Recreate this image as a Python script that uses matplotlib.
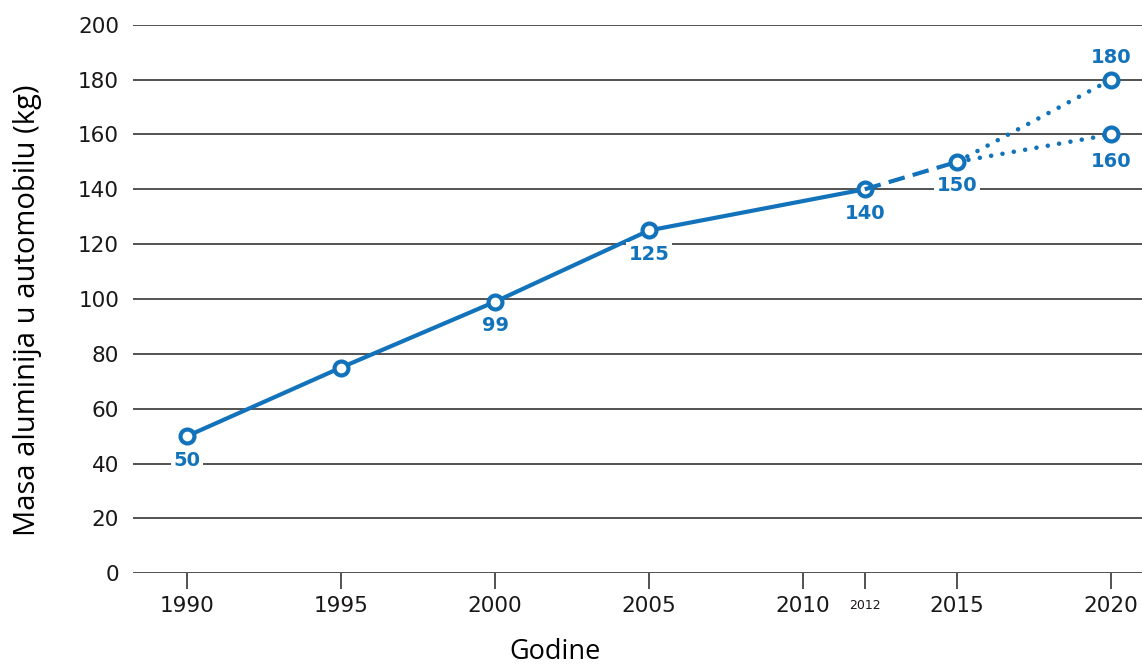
import matplotlib
matplotlib.use("Agg")
import matplotlib.pyplot as plt

years_hist = [1990, 1995, 2000, 2005, 2012]
values_hist = [50, 75, 99, 125, 140]
years_dash = [2012, 2015]
values_dash = [140, 150]
years_high = [2015, 2020]
values_high = [150, 180]
years_low = [2015, 2020]
values_low = [150, 160]

label_years = [1990, 2000, 2005, 2012, 2015, 2020, 2020]
label_values = [50, 99, 125, 140, 150, 180, 160]
label_texts = ["50", "99", "125", "140", "150", "180", "160"]
label_above = [False, False, False, False, False, True, False]

xticks = [1990, 1995, 2000, 2005, 2010, 2012, 2015, 2020]
xtick_labels = ["1990", "1995", "2000", "2005", "2010", "2012", "2015", "2020"]
yticks = [0, 20, 40, 60, 80, 100, 120, 140, 160, 180, 200]

blue = "#1273bb"
dark = "#1a1718"
grid_c = "#444444"

plt.rcParams['font.family'] = ['DejaVu Sans']

fig = plt.figure(figsize=(11.42, 6.64), dpi=100)
ax = fig.add_axes([0.1165, 0.1366, 0.8835, 0.8262])
ax.set_xlim(1988.25, 2021.0)
ax.set_ylim(0, 200)

for y in yticks:
    ax.axhline(y, color=grid_c, lw=1.3, zorder=1)

mk = dict(marker='o', markersize=10, markerfacecolor='white',
          markeredgecolor=blue, markeredgewidth=3)
ax.plot(years_hist, values_hist, color=blue, lw=3, zorder=3, **mk)
ax.plot(years_dash, values_dash, color=blue, lw=3, ls=(0, (4, 2)), zorder=3)
ax.plot(years_high, values_high, color=blue, lw=3.3, ls=(0, (0.01, 2.5)),
        dash_capstyle='round', zorder=3)
ax.plot(years_low, values_low, color=blue, lw=3.3, ls=(0, (0.01, 2.5)),
        dash_capstyle='round', zorder=3)
ax.plot(years_dash[1:], values_dash[1:], ls='none', zorder=4, **mk)
ax.plot(years_high[1:], values_high[1:], ls='none', zorder=4, **mk)
ax.plot(years_low[1:], values_low[1:], ls='none', zorder=4, **mk)

for x, v, t, above in zip(label_years, label_values, label_texts, label_above):
    off = 9 if above else -10.5
    if t == "160":
        off = -12.5
    ax.annotate(t, (x, v), xytext=(0, off), textcoords='offset points',
                ha='center', va='bottom' if above else 'top',
                color=blue, fontsize=14, fontweight='bold', zorder=5,
                bbox=dict(boxstyle='square,pad=0.15', fc='white', ec='none'))

for s in ['left', 'right', 'top', 'bottom']:
    ax.spines[s].set_visible(False)

ax.set_yticks(yticks)
ax.set_yticklabels([str(y) for y in yticks], fontsize=15.5, color=dark)
ax.tick_params(axis='y', length=0, pad=10)

ax.set_xticks(xticks)
ax.set_xticklabels(xtick_labels, fontsize=15.5, color=dark)
ax.tick_params(axis='x', length=11.5, width=1.3, color=grid_c, pad=4.5, direction='out')
for lbl in ax.get_xticklabels():
    if lbl.get_text() == "2012":
        lbl.set_fontsize(9)
        lbl.set_y(-0.006)

fig.text(0.0245, 0.533, "Masa aluminija u automobilu (kg)", rotation=90,
         ha='center', va='center', fontsize=21, color='black', family='Open Sans')
fig.text(0.486, 0.018, "Godine", ha='center', va='center', fontsize=19.5,
         color='black', family='Open Sans')

fig.savefig("out.png", dpi=100)
